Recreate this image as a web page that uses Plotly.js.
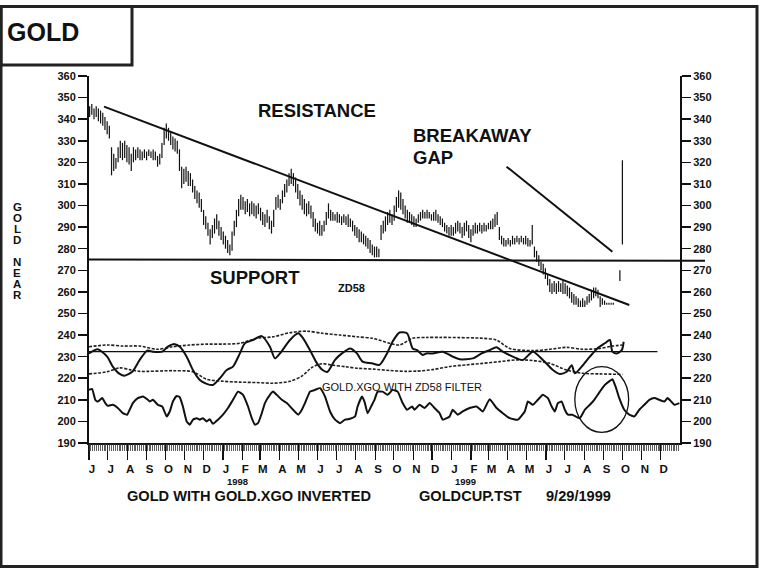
<!DOCTYPE html>
<html><head><meta charset="utf-8">
<script src="https://cdn.plot.ly/plotly-3.0.1.min.js"></script>
<style>html,body{margin:0;padding:0;background:#fff}#chart{width:764px;height:572px}</style>
</head><body><div id="chart"></div>
<script>
// ---------- DATA ----------
const axisStart = '1997-06-01';
const axisEnd = '2000-01-01';
const monthLabels = ['J','J','A','S','O','N','D','J','F','M','A','M','J','J','A','S','O','N','D','J','F','M','A','M','J','J','A','S','O','N','D'];
const yearLabels = ['1998','1999'];

// price bars, one every 3.5 days from priceStart
const priceStart = '1997-06-02';
const priceStepDays = 3.5;
const priceHigh = [
 346,347,345,346,345,344,343,341,339,337,
 327,324,322,327,330,329,330,328,327,324,
 327,326,327,326,325,326,325,326,325,326,
 325,323,324,329,336,338,336,334,332,331,
 330,326,318,317,318,316,315,312,309,307,
 306,303,298,295,292,289,291,294,296,293,
 290,288,286,284,282,288,293,298,303,305,
 304,302,303,301,302,301,300,301,299,297,
 296,298,295,293,298,304,305,303,307,310,
 312,315,317,315,313,310,307,305,303,301,
 302,300,297,294,292,293,291,293,297,301,
 298,297,296,297,296,295,296,295,296,294,
 293,291,290,289,288,287,286,285,284,282,
 281,281,280,291,293,295,297,298,296,300,
 304,307,306,303,300,298,297,296,295,294,
 296,297,298,297,298,297,296,297,298,296,
 295,294,292,291,290,291,290,292,293,292,
 290,292,293,291,289,291,292,291,292,291,
 292,291,292,293,294,296,297,290,286,285,
 284,285,284,286,285,286,285,286,285,286,
 285,284,291,281,279,277,274,273,271,268,
 266,264,265,264,265,264,265,264,263,262,
 260,259,258,257,256,257,256,258,259,261,
 262,262,261,258,257,256,255,255,255,255];
const priceLow = [
 341,342,340,341,339,338,337,335,333,331,
 314,316,317,320,322,321,322,320,319,316,
 320,321,322,321,321,322,321,323,322,321,
 321,318,319,322,328,331,330,328,326,325,
 324,316,308,310,311,309,309,306,303,301,
 299,297,291,289,286,282,285,287,289,286,
 284,282,280,278,277,279,286,290,295,298,
 298,296,297,295,296,295,294,296,293,291,
 290,292,289,287,290,298,299,298,301,304,
 306,309,310,309,306,303,300,298,296,295,
 296,294,290,288,287,286,286,288,291,294,
 293,293,293,292,292,291,292,291,290,290,
 288,286,285,283,283,282,281,280,278,277,
 276,276,276,284,287,288,291,292,291,293,
 297,299,298,296,294,292,292,291,290,290,
 292,293,294,294,294,294,293,293,293,292,
 291,290,288,287,286,286,286,287,288,287,
 285,286,288,285,283,286,287,287,288,287,
 288,288,289,289,289,290,291,284,282,281,
 281,282,281,282,282,283,282,283,282,282,
 281,281,282,276,274,272,270,268,266,263,
 260,259,260,259,260,260,259,259,258,257,
 255,254,254,253,253,253,253,254,255,256,
 257,258,257,253,254,254,254,254,254,254];
const lateBarDates = ['1999-09-27','1999-10-01'];
const lateBarHigh = [270, 321];
const lateBarLow = [265, 282];

// trend lines (day offsets from axisStart)
const resistanceDays = [24, 863];
const resistanceValues = [345.8, 253.9];
const gapLineDays = [667, 836];
const gapLineValues = [318, 278.6];
const supportLevel = [275.0, 274.4];
const refLineDays = [0, 908];
const refLineValues = [232.3, 232.3];
const circleDays = [776, 862];
const circleValues = [194.9, 225.4];

// ZD58 oscillator (solid)
const oscDays = [0,14,29,38,49,57,69,81,93,102,117,126,137,145,156,166,177,188,198,209,220,230,241,249,262,276,289,297,305,321,334,342,353,364,373,381,393,404,417,428,437,452,464,476,485,496,508,517,524,533,539,549,565,581,592,613,627,640,651,661,677,693,709,725,741,752,763,771,776,787,800,812,824,832,836,843,851,854];
const oscValues = [231.5,233.4,230,225.4,222,221.2,223,228.5,232.8,232.3,232.3,234.6,235.8,234.6,230,223.8,219.2,217.4,216.9,220,223.8,225.4,231.5,236.2,237.7,239.5,234.6,229.2,231.5,237.7,240.8,238.5,233,227,223.8,223,228.5,231.5,233.8,231.5,227.7,226.9,226.2,231.5,237,241.2,240.8,233.8,233,230.8,231.5,231.5,232.3,230,228.8,229.2,231.5,233,234.3,232.3,230,228.5,232.3,228.5,223.8,222,223,226,222.3,225.4,230,233.8,236.2,237.7,232.3,231.5,233,236.9];
// upper and lower dotted bands
const upperDays = [0,29,54,81,109,134,161,188,214,241,268,294,321,348,373,401,428,453,480,496,517,539,560,576,629,651,672,709,736,763,788,816,836,852];
const upperValues = [234.6,235.4,234.9,234.9,233.4,234.6,235.4,235.8,235.8,236.2,238.5,239.2,241.1,241.8,240.8,240,239.2,238.5,236.2,235.4,238.5,238.9,238.9,238.9,238.5,237.7,233.8,232.8,233.4,234.3,233.4,233.8,234.9,235.4];
const lowerDays = [0,29,49,65,81,134,166,188,214,241,268,294,321,340,356,372,390,410,430,455,480,505,524,549,576,603,629,656,683,709,736,763,788,816,852];
const lowerValues = [222,223,224.8,224,223.2,223.5,223,219.5,218.6,218.2,218,217.7,218.6,221,225,226.7,226,225.3,224.6,224.2,223.6,223.2,223.3,224,225.4,226.2,226.9,227.7,228.5,228.2,226.9,223.8,222.3,222,221.8];
// GOLD.XGO inverted (lower solid)
const xgoDays = [0,5,10,14,21,26,30,38,46,54,61,65,70,78,86,94,97,102,110,117,124,129,134,140,145,150,156,161,166,172,177,182,188,193,198,206,214,222,230,238,246,254,260,265,270,276,281,289,294,300,308,316,326,334,340,345,353,361,369,377,385,393,401,409,417,425,429,436,440,445,452,456,461,469,477,485,493,501,508,516,520,528,536,544,552,560,565,576,581,589,597,608,619,629,640,651,661,672,685,696,701,709,717,725,733,739,744,749,755,760,765,772,784,792,800,807,816,824,832,836,841,847,855,863,871,879,887,895,903,911,919,924,930,935,943];
const xgoValues = [214.6,215,210,209.2,210.8,208.5,207.2,207.7,206.2,203.8,203.1,205.4,208.5,210.8,211.5,210,209.2,210,207.7,206.9,202.3,204.6,209.2,211.8,211.2,206.9,200,198.5,200.8,201.5,200.8,201.5,200,201,198.9,200.8,203.1,206.2,210,213.8,212.3,206.9,201.5,198.5,199.2,203.8,208.5,212.3,213.8,212.3,210,208.5,205.4,203.1,205.4,208.5,213.8,214.6,215.4,211.5,204.6,200.8,199.2,200.8,201.2,202.3,206.9,211.5,209.2,203.8,207.7,210,213.8,213.8,212.3,214.6,213.8,208.5,205.4,206.9,205.4,207.7,206.2,208.5,206.2,203.8,200.8,202.3,205.4,203.1,204.6,206.2,206.9,204.6,210.3,206.2,203.8,201.5,200.8,204.6,209.2,207.7,210,212.3,210.8,206.9,204.6,208.5,209.2,205.4,203.1,203.1,201.5,205.4,207.7,210,213.8,216.9,218.8,219.5,216.2,210.8,205.4,203.1,202.3,205.4,207.7,210,210.8,210,209.2,210.8,209.2,207.7,208.5];

// ---------- BUILD ----------
const DAY = 864e5;
const base = Date.parse(axisStart + 'T00:00:00Z');
function fmt(ms){const s = new Date(ms).toISOString(); return s.slice(0,10) + ' ' + s.slice(11,19);}
const fromDays = arr => arr.map(d => fmt(base + d*DAY));

const pStart = Date.parse(priceStart + 'T00:00:00Z');
const barX = [], barY = [];
priceHigh.forEach((h,i)=>{const t = fmt(pStart + i*priceStepDays*DAY); barX.push(t,t,null); barY.push(h, priceLow[i], null);});
lateBarDates.forEach((d,i)=>{barX.push(d,d,null); barY.push(lateBarHigh[i], lateBarLow[i], null);});

const tickvals = monthLabels.map((m,k)=>fmt(Date.UTC(1997,5+k,1)));

const FONT = 'Liberation Sans, Arial, Helvetica, sans-serif';
const INK = '#111';
const L = 89, R = 680, T = 76, B = 443;
const ax = x => (x - L)/(R - L);
const ay = y => (B - y)/(B - T);

const traces = [
  {x: barX, y: barY, mode:'lines', line:{color:INK, width:1.2}, hoverinfo:'skip'},
  {x: fromDays(resistanceDays), y: resistanceValues, mode:'lines', line:{color:INK, width:2}},
  {x: fromDays(gapLineDays), y: gapLineValues, mode:'lines', line:{color:INK, width:2}},
  {x: fromDays(upperDays), y: upperValues, mode:'lines', line:{color:'#222', width:1.6, dash:'3px,1.5px', shape:'spline', smoothing:0.8}},
  {x: fromDays(lowerDays), y: lowerValues, mode:'lines', line:{color:'#222', width:1.6, dash:'3px,1.5px', shape:'spline', smoothing:0.8}},
  {x: fromDays(oscDays), y: oscValues, mode:'lines', line:{color:INK, width:2, shape:'spline', smoothing:0.7}},
  {x: fromDays(xgoDays), y: xgoValues, mode:'lines', line:{color:INK, width:2, shape:'spline', smoothing:0.4}},
  {x: fromDays(refLineDays), y: refLineValues, mode:'lines', line:{color:INK, width:1.3}, xaxis:'x2', yaxis:'y2'}
];

const ann = (text, x, y, size, bold, xanchor) => ({
  text, xref:'paper', yref:'paper', x: ax(x), y: ay(y), xanchor: xanchor || 'left', yanchor:'middle',
  showarrow:false, font:{family:FONT, size, color:INK, weight: bold ? 'bold' : 'normal'}, borderpad:0, borderwidth:0
});

const annotations = [
  ann('GOLD', 7, 32, 25, true),
  ann('RESISTANCE', 258, 111, 18.5, true),
  ann('BREAKAWAY', 413, 135, 18.5, true),
  ann('GAP', 413, 157, 18.5, true),
  ann('SUPPORT', 210, 277, 18.5, true),
  ann('ZD58', 338, 288, 11, true),
  ann('GOLD.XGO WITH ZD58 FILTER', 322, 387, 11, false),
  ann(yearLabels[0], 237, 481, 9.5, true, 'center'),
  ann(yearLabels[1], 466, 481, 9.5, true, 'center'),
  ann('GOLD WITH GOLD.XGO INVERTED', 127, 496, 14.6, true),
  ann('GOLDCUP.TST', 419, 496, 14.6, true),
  ann('9/29/1999', 546, 496, 14.6, true)
];
const yTitle = ['G','O','L','D','N','E','A','R'];
const yTitleY = [207,218,229,240,262,273,284,295];
yTitle.forEach((c,i)=>annotations.push(ann(c, 17, yTitleY[i], 11.5, true, 'center')));

const shapes = [
  {type:'rect', xref:'paper', yref:'paper', x0:ax(1), x1:ax(757), y0:ay(6.5), y1:ay(566.5), line:{color:'#222', width:3}},
  {type:'rect', xref:'paper', yref:'paper', x0:ax(1), x1:ax(132), y0:ay(6.5), y1:ay(65), line:{color:'#222', width:3}},
  {type:'line', xref:'paper', yref:'y', x0:0, x1:ax(705), y0:supportLevel[0], y1:supportLevel[1], line:{color:INK, width:2}},
  {type:'circle', xref:'x', yref:'y', x0:fmt(base+circleDays[0]*DAY), x1:fmt(base+circleDays[1]*DAY), y0:circleValues[0], y1:circleValues[1], line:{color:INK, width:1.3}}
];

const yAxisBase = {
  range:[190,360], tickmode:'linear', tick0:190, dtick:10, ticks:'outside', ticklen:9, tickwidth:1.5, tickcolor:INK,
  showline:true, linewidth:2, linecolor:INK, showgrid:false, zeroline:false, fixedrange:true,
  tickfont:{family:FONT, size:11, color:INK, weight:'bold'}
};

const layout = {
  width:764, height:572, margin:{l:L, r:764-R, t:T, b:572-B},
  paper_bgcolor:'#fff', plot_bgcolor:'#fff', showlegend:false,
  xaxis:{
    type:'date', range:[axisStart, axisEnd], tickmode:'array', tickvals, ticktext: monthLabels,
    ticks:'outside', ticklen:15, tickwidth:1.2, tickcolor:INK, ticklabelshift:3,
    showline:true, linewidth:1.5, linecolor:INK, showgrid:false, zeroline:false,
    tickfont:{family:FONT, size:11.5, color:INK, weight:'bold'}
  },
  xaxis2:{
    type:'date', range:[axisStart, axisEnd], overlaying:'x', anchor:'y2', side:'bottom',
    tickmode:'linear', tick0:axisStart, dtick:3*DAY, ticks:'outside', ticklen:7, tickwidth:0.8, tickcolor:'#333',
    showticklabels:false, showline:false, showgrid:false, zeroline:false
  },
  yaxis: Object.assign({}, yAxisBase, {side:'left'}),
  yaxis2: Object.assign({}, yAxisBase, {side:'right', overlaying:'y', anchor:'x'}),
  annotations, shapes
};

Plotly.newPlot('chart', traces, layout, {staticPlot:true, displayModeBar:false});
</script>
</body></html>
